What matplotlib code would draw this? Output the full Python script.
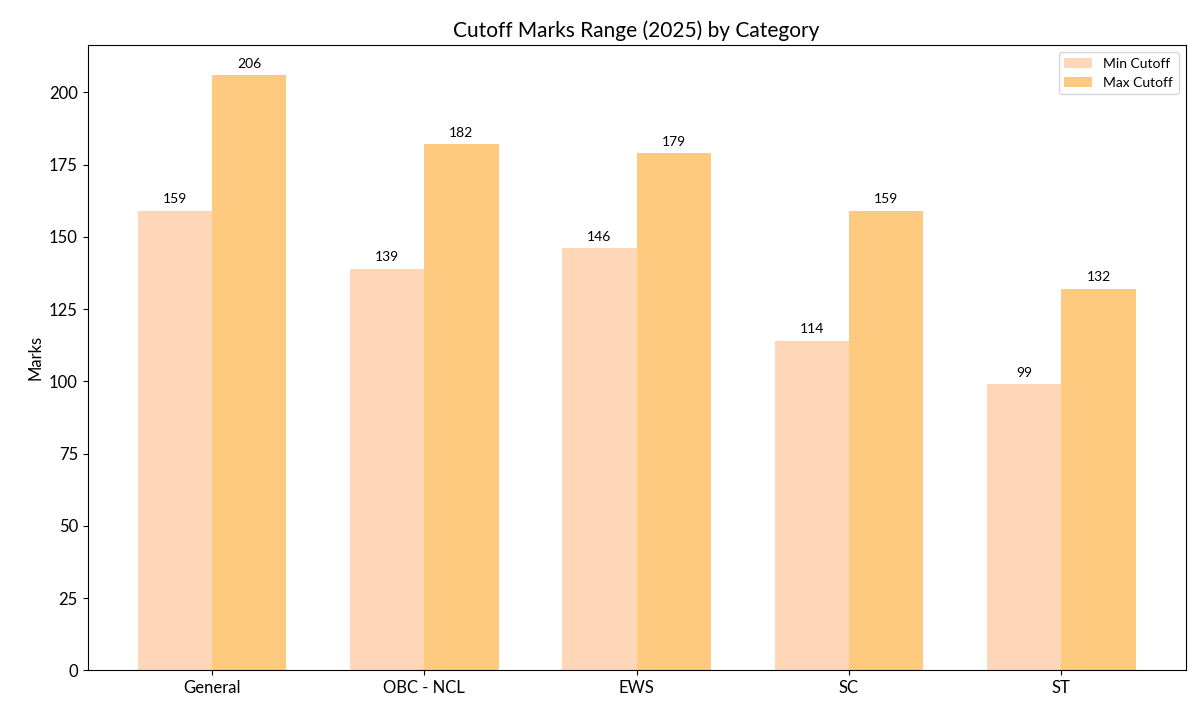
import matplotlib
matplotlib.use("Agg")
import matplotlib.pyplot as plt
import numpy as np

plt.rcParams['font.family'] = ['Lato', 'DejaVu Sans']

categories = ["General", "OBC - NCL", "EWS", "SC", "ST"]
min_cutoff = [159, 139, 146, 114, 99]
max_cutoff = [206, 182, 179, 159, 132]

fig, ax = plt.subplots(figsize=(12, 7.2), dpi=100)
x = np.arange(len(categories))
w = 0.35
b1 = ax.bar(x - w/2, min_cutoff, w, color="#FDD7B8", label="Min Cutoff")
b2 = ax.bar(x + w/2, max_cutoff, w, color="#FDCA80", label="Max Cutoff")
for bars in (b1, b2):
    for r in bars:
        ax.annotate(f"{int(r.get_height())}", (r.get_x() + r.get_width()/2, r.get_height()),
                    xytext=(0, 4), textcoords="offset points", ha="center", va="bottom", fontsize=10)
ax.set_xticks(x)
ax.set_xticklabels(categories, fontsize=12)
ax.tick_params(axis='y', labelsize=12)
ax.set_ylabel("Marks", fontsize=12)
ax.set_title("Cutoff Marks Range (2025) by Category", fontsize=15)
ax.legend(loc="upper right", fontsize=10)
fig.subplots_adjust(left=0.073, right=0.988, top=0.937, bottom=0.069)
fig.savefig("out.png")
